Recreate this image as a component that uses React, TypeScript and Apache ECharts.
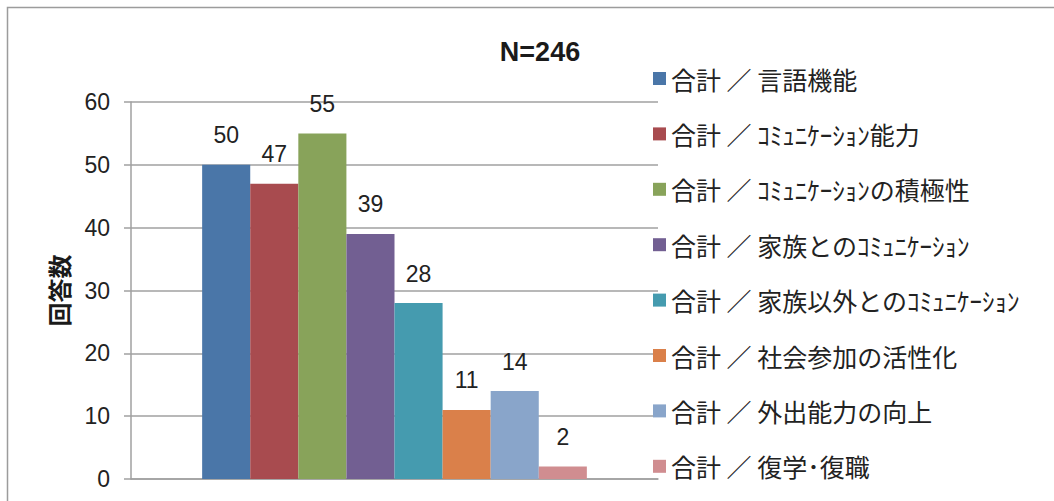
import React, { useEffect, useRef } from "react";
import * as echarts from "echarts";

const categories = ["回答"];
const seriesNames = [
  "合計 ／ 言語機能",
  "合計 ／ ｺﾐｭﾆｹｰｼｮﾝ能力",
  "合計 ／ ｺﾐｭﾆｹｰｼｮﾝの積極性",
  "合計 ／ 家族とのｺﾐｭﾆｹｰｼｮﾝ",
  "合計 ／ 家族以外とのｺﾐｭﾆｹｰｼｮﾝ",
  "合計 ／ 社会参加の活性化",
  "合計 ／ 外出能力の向上",
  "合計 ／ 復学･復職",
];
const seriesValues = [50, 47, 55, 39, 28, 11, 14, 2];
const colors = ["#4a76a8", "#a84b4f", "#88a35a", "#725f92", "#459baf", "#da804a", "#89a5ca", "#d08d90"];
const yTicks = { min: 0, max: 60, interval: 10 };
const titleText = "N=246";
const yAxisName = "回答数";

const FONT = "'Liberation Sans', 'Noto Sans CJK JP', sans-serif";
const JFONT = "'Noto Sans CJK JP', 'Liberation Sans', sans-serif";

export default function App() {
  const ref = useRef<HTMLDivElement>(null);
  useEffect(() => {
    if (!ref.current) return;
    const chart = echarts.init(ref.current, null, { renderer: "svg" });
    chart.setOption({
      animation: false,
      backgroundColor: "#ffffff",
      title: {
        text: titleText,
        left: 535,
        top: 33,
        textAlign: "center",
        textStyle: { fontFamily: FONT, fontSize: 27, fontWeight: "bold", color: "#1a1a1a" },
      },
      graphic: [
        {
          type: "rect",
          shape: { x: 7.5, y: 7.5, width: 1100, height: 600 },
          style: { fill: "none", stroke: "#9c9c9c", lineWidth: 1.5 },
          silent: true,
        },
      ],
      legend: {
        orient: "vertical",
        left: 648,
        top: 61,
        itemWidth: 13,
        itemHeight: 13,
        itemGap: 30.4,
        icon: "rect",
        textStyle: { fontFamily: JFONT, fontSize: 25, color: "#222222" },
        data: seriesNames,
      },
      grid: { left: 131, right: 396, top: 102, bottom: 22 },
      xAxis: {
        type: "category",
        data: categories,
        axisLine: { show: true, lineStyle: { color: "#a0a0a0", width: 1.5 } },
        axisTick: { show: false },
        axisLabel: { show: false },
      },
      yAxis: {
        type: "value",
        min: yTicks.min,
        max: yTicks.max,
        interval: yTicks.interval,
        name: yAxisName,
        nameLocation: "middle",
        nameRotate: 90,
        nameGap: 61,
        nameTextStyle: { fontFamily: JFONT, fontSize: 24, fontWeight: "bold", color: "#1a1a1a" },
        axisLine: { show: true, lineStyle: { color: "#a0a0a0", width: 1.5 } },
        axisTick: { show: true, length: 7, lineStyle: { color: "#a0a0a0", width: 1.5 } },
        axisLabel: { fontFamily: FONT, fontSize: 23, color: "#222222", margin: 21 },
        splitLine: { show: true, lineStyle: { color: "#a0a0a0", width: 1.5 } },
      },
      series: seriesNames.map((name, i) => ({
        name,
        type: "bar",
        barGap: "0%",
        barCategoryGap: "27%",
        data: [seriesValues[i]],
        itemStyle: { color: colors[i] },
        label: {
          show: true,
          position: "top",
          distance: 18,
          fontFamily: FONT,
          fontSize: 23,
          color: "#222222",
        },
      })),
    });
    return () => chart.dispose();
  }, []);
  return (
    <div
      ref={ref}
      style={{ position: "fixed", left: 0, top: 0, width: 1054, height: 501 }}
    />
  );
}
